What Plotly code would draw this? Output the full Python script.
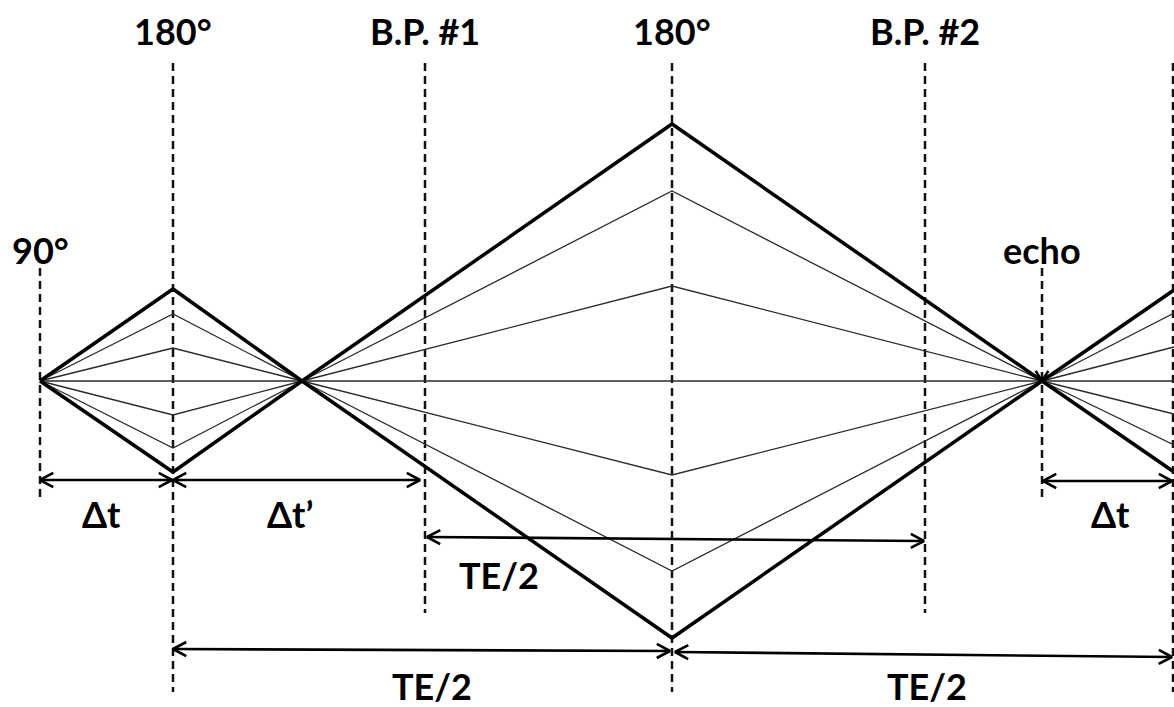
import math
import plotly.graph_objects as go

W, H = 1174, 707
BASE = 381  # baseline (zero phase) row

# Pulse / event positions along the time axis
pulse_names = ["90°", "180°", "B.P. #1", "180°", "B.P. #2", "echo", ""]
pulse_t = [40, 173, 425, 672, 925, 1042, 1173]
pulse_top = [268, 63, 63, 63, 63, 268, 63]
pulse_bottom = [502, 692, 613, 692, 613, 500, 692]
label_y = [250, 31, 31, 31, 31, 250, None]

# Refocusing nodes and phase of each spin isochromat at those nodes
node_t = [40, 173, 302, 672, 1042, 1174]
phase_fast_up = [0, 92, 0, -257, 0, 91]
phase_mid_up = [0, 67, 0, -190, 0, 68]
phase_slow_up = [0, 33, 0, -94, 0, 34]
phase_still = [0, 0, 0, 0, 0, 0]
phase_slow_dn = [0, -34, 0, 95, 0, -33]
phase_mid_dn = [0, -67, 0, 190, 0, -64]
phase_fast_dn = [0, -91, 0, 257, 0, -91]

# Interval arrows: start/end positions and rows, with their labels
arrow_t0 = [40, 173, 427, 173, 675, 1043]
arrow_y0 = [480, 480, 537, 649, 652, 481]
arrow_t1 = [172, 420, 924, 670, 1172, 1172]
arrow_y1 = [480, 480, 541, 651, 657, 481]
arrow_text = ["Δt", "Δt’", "TE/2", "TE/2", "TE/2", "Δt"]
arrow_text_t = [101, 290, 499, 432, 927, 1110]
arrow_text_y = [514, 514, 575, 686, 686, 514]

FONT = "Lato"
fig = go.Figure()

# dashed pulse markers
for t, y0, y1 in zip(pulse_t, pulse_top, pulse_bottom):
    fig.add_trace(go.Scatter(x=[t, t], y=[y0, y1], mode="lines",
                             line=dict(color="#111", width=2.5, dash="8px,5px"),
                             hoverinfo="skip"))

# spin phase trajectories
thin = [phase_mid_up, phase_slow_up, phase_still, phase_slow_dn, phase_mid_dn]
for ph in thin:
    fig.add_trace(go.Scatter(x=node_t, y=[BASE - p for p in ph], mode="lines",
                             line=dict(color="#2a2a2a", width=1.3),
                             hoverinfo="skip"))
for ph in [phase_fast_up, phase_fast_dn]:
    fig.add_trace(go.Scatter(x=node_t, y=[BASE - p for p in ph], mode="lines",
                             line=dict(color="black", width=3.5),
                             hoverinfo="skip"))


def chevron(tip_x, tip_y, dx, dy, length=15, ang=28):
    """Open arrowhead at tip, pointing along (dx, dy)."""
    n = math.hypot(dx, dy)
    ux, uy = dx / n, dy / n
    xs, ys = [], []
    for s in (1, -1):
        a = math.radians(ang) * s
        rx = ux * math.cos(a) - uy * math.sin(a)
        ry = ux * math.sin(a) + uy * math.cos(a)
        xs.append(tip_x - length * rx)
        ys.append(tip_y - length * ry)
    return [xs[0], tip_x, xs[1], None], [ys[0], tip_y, ys[1], None]


ax, ay = [], []
for x0, y0, x1, y1 in zip(arrow_t0, arrow_y0, arrow_t1, arrow_y1):
    ax += [x0, x1, None]
    ay += [y0, y1, None]
    cx, cy = chevron(x1, y1, x1 - x0, y1 - y0)
    ax += cx
    ay += cy
    cx, cy = chevron(x0, y0, x0 - x1, y0 - y1)
    ax += cx
    ay += cy
# echo marker arrowhead pointing down onto the refocus point
cx, cy = chevron(pulse_t[5], BASE, 0, 1, length=12, ang=32)
ax += cx
ay += cy
fig.add_trace(go.Scatter(x=ax, y=ay, mode="lines",
                         line=dict(color="black", width=2.6),
                         hoverinfo="skip"))

# pulse labels
for name, t, ly in zip(pulse_names, pulse_t, label_y):
    if not name:
        continue
    fig.add_annotation(x=t, y=ly, text=f"<b>{name}</b>", showarrow=False,
                       xanchor="center", yanchor="middle",
                       font=dict(family=FONT, size=36, color="black"))

# interval labels
for txt, t, ly in zip(arrow_text, arrow_text_t, arrow_text_y):
    fig.add_annotation(x=t, y=ly, text=f"<b>{txt}</b>", showarrow=False,
                       xanchor="center", yanchor="middle",
                       font=dict(family=FONT, size=36, color="black"))

fig.update_layout(
    width=W, height=H,
    margin=dict(l=0, r=0, t=0, b=0),
    paper_bgcolor="white", plot_bgcolor="white",
    showlegend=False,
    xaxis=dict(range=[0, W], visible=False, fixedrange=True),
    yaxis=dict(range=[H, 0], visible=False, fixedrange=True),
)

fig.write_html("out.html", include_plotlyjs=True, config={"displayModeBar": False})
